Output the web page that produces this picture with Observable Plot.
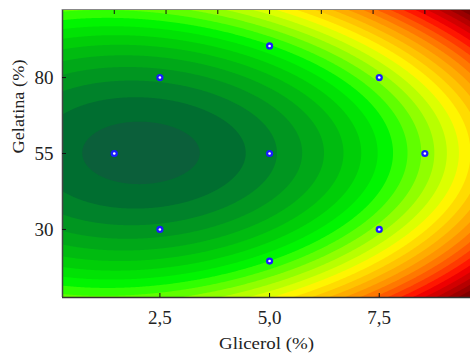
<!DOCTYPE html>
<html>
<head>
<meta charset="utf-8">
<script src="https://cdn.jsdelivr.net/npm/d3@7"></script>
<script src="https://cdn.jsdelivr.net/npm/@observablehq/plot@0.6"></script>
<style>
  html, body { margin: 0; padding: 0; background: #fff; }
  #chart { width: 470px; height: 353px; overflow: hidden; }
</style>
</head>
<body>
<div id="chart"></div>
<script>
// Design points (central composite design)
const glicerol = [1.46, 2.5, 2.5, 5.0, 5.0, 5.0, 7.5, 7.5, 8.54];
const gelatina = [55, 30, 80, 19.6, 55, 90.4, 30, 80, 55];

// Fitted response surface:
// z = b0 + b1*G + b2*Ge + b11*G^2 + b22*Ge^2 + b12*G*Ge + b122*G*Ge^2
const coefNames = ["b0", "b1", "b2", "b11", "b22", "b12", "b122"];
const coefValues = [13.116, -0.4521, -0.43542, 0.2564, 0.003944, -0.02208, 0.0002];

// Contour levels
const levels = [-1, 0.46, 1.46, 2.46, 3.46, 4.46, 5.46, 6.46, 7.46, 8.46, 9.46, 10.46, 11.46, 12.46, 13.46,
  14.46, 15.46, 16.46, 17.46, 18.46, 19.46, 20.46, 21.46, 22.46, 23.46, 24.46, 25.46, 26.46];

// Axis ticks
const xTicks = [2.5, 5.0, 7.5];
const xTickLabels = ["2,5", "5,0", "7,5"];
const yTicks = [30, 55, 80];
const yTickLabels = ["30", "55", "80"];
const xTopTicks = [1.46, 2.64, 3.82, 5.0, 6.18, 7.36, 8.54];
const xLabel = "Glicerol (%)";
const yLabel = "Gelatina (%)";

// Styles
const levelColors = ["#0b5f3a", "#006e30", "#00822a", "#009620", "#00a818", "#00bb10", "#00ce08", "#00e204",
  "#00f500", "#30ff00", "#60ff00", "#90ff00", "#b8ff00", "#dcff00", "#fff500", "#ffdc00", "#ffc400", "#ffac00",
  "#ff9400", "#ff7800", "#ff5a00", "#ff3a00", "#ff1600", "#ee0000", "#d20000", "#b60000", "#9a0000", "#800000"];
const xDomain = [0.28, 9.58];
const yDomain = [7.6, 102.4];

const [b0, b1, b2, b11, b22, b12, b122] = coefValues;
const surface = (x, y) => b0 + b1 * x + b2 * y + b11 * x * x + b22 * y * y + b12 * x * y + b122 * x * y * y;

const points = glicerol.map((g, i) => ({g, ge: gelatina[i]}));

const fontFamily = "'Liberation Serif', 'Times New Roman', serif";

const chart = Plot.plot({
  width: 470,
  height: 353,
  marginLeft: 62,
  marginRight: 0,
  marginTop: 9,
  marginBottom: 56,
  style: {fontFamily, fontSize: "19px", color: "#222", background: "#fff"},
  x: {domain: xDomain, label: null},
  y: {domain: yDomain, label: null},
  color: {type: "ordinal", domain: levels, range: levelColors},
  marks: [
    Plot.contour({
      fill: surface,
      x1: xDomain[0], x2: xDomain[1], y1: yDomain[0], y2: yDomain[1],
      thresholds: levels,
      pixelSize: 1,
      stroke: "none"
    }),
    Plot.ruleX([xDomain[0]], {stroke: "#444", strokeWidth: 1.5}),
    Plot.ruleY([yDomain[0]], {stroke: "#333", strokeWidth: 1.5}),
    Plot.ruleY([yDomain[1]], {stroke: "#888", strokeWidth: 1.2}),
    Plot.axisX({anchor: "bottom", ticks: xTicks, tickSize: -4, text: null, stroke: "#111"}),
    Plot.axisX({anchor: "top", ticks: xTopTicks, tickSize: -4, text: null, stroke: "#111"}),
    Plot.axisY({anchor: "left", ticks: yTicks, tickSize: -4, text: null, stroke: "#111"}),
    Plot.axisX({anchor: "bottom", ticks: xTicks, tickSize: 0, tickPadding: 13, label: null,
      tickFormat: (d) => xTickLabels[xTicks.indexOf(d)], fontSize: 19}),
    Plot.axisY({anchor: "left", ticks: yTicks, tickSize: 0, tickPadding: 9, label: null,
      tickFormat: (d) => yTickLabels[yTicks.indexOf(d)], fontSize: 19}),
    Plot.text([xLabel], {frameAnchor: "bottom", dy: 51, text: (d) => d, fontSize: 16, fill: "#222"}),
    Plot.text([yLabel], {frameAnchor: "left", dx: -44, rotate: -90, text: (d) => d, fontSize: 16, fill: "#222"}),
    Plot.dot(points, {x: "g", y: "ge", r: 3.6, fill: "#1a1aff", stroke: "none"}),
    Plot.dot(points, {x: "g", y: "ge", r: 1.3, fill: "#fff", stroke: "none"})
  ]
});

document.getElementById("chart").appendChild(chart);

// Stretch axis titles to the reference's proportions
d3.select(chart).selectAll("text").each(function () {
  const t = this.textContent;
  if (t === xLabel) { this.setAttribute("textLength", 95); this.setAttribute("lengthAdjust", "spacingAndGlyphs"); }
  if (t === yLabel) { this.setAttribute("textLength", 94); this.setAttribute("lengthAdjust", "spacingAndGlyphs"); }
});
</script>
</body>
</html>
